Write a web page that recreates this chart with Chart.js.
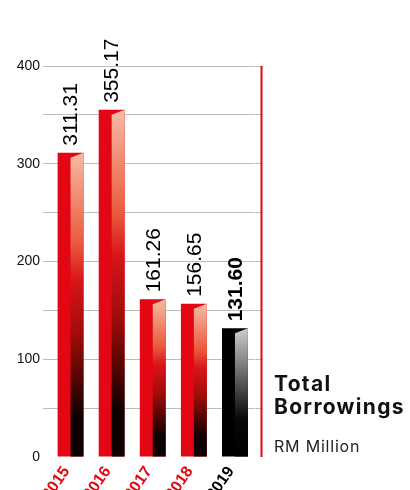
<!DOCTYPE html>
<html>
<head>
<meta charset="utf-8">
<script src="https://cdn.jsdelivr.net/npm/chart.js@4"></script>
<style>
  body { margin: 0; background: #fff; }
  #wrap { position: relative; width: 410px; height: 490px; }
  .title { position: absolute; left: 274px; font-family: "Inter", "Noto Sans", sans-serif; color: #111; }
  #t1 { top: 372px; font-size: 21px; font-weight: 700; line-height: 23px; letter-spacing: 1.3px; }
  #t2 { top: 436px; font-size: 16px; font-weight: 400; line-height: 20px; color: #222; letter-spacing: 0.8px; }
</style>
</head>
<body>
<div id="wrap">
  <canvas id="myChart"></canvas>
  <div class="title" id="t1">Total<br>Borrowings</div>
  <div class="title" id="t2">RM Million</div>
</div>
<script>
const years = ["2015", "2016", "2017", "2018", "2019"];
const borrowings = [311.31, 355.17, 161.26, 156.65, 131.6];
const yTicks = [0, 100, 200, 300, 400];

const RED = "#e30613";
const frontColors = [RED, RED, RED, RED, "#000000"];
const labelColors = [RED, RED, RED, RED, "#000000"];

// right half of every bar gets the shaded "3d" side
const sideFace = {
  id: "sideFace",
  afterDatasetsDraw(chart) {
    const ctx = chart.ctx;
    const meta = chart.getDatasetMeta(0);
    meta.data.forEach(function (bar, i) {
      const left = bar.x;
      const right = bar.x + bar.width / 2;
      const top = bar.y;
      const bottom = bar.base;
      const h = bottom - top;
      const grad = ctx.createLinearGradient(0, top, 0, bottom);
      if (i == 4) {
        grad.addColorStop(0, "#cfcfcf");
        grad.addColorStop(0.35, "#6a6a6a");
        grad.addColorStop(0.7, "#080808");
        grad.addColorStop(1, "#000000");
      } else {
        grad.addColorStop(0, "#f6bba5");
        grad.addColorStop(0.3, "#ea5a3c");
        grad.addColorStop(0.42, "#d8141a");
        grad.addColorStop(0.6, "#a00c0a");
        grad.addColorStop(0.76, "#4a0402");
        grad.addColorStop(0.87, "#0e0000");
        grad.addColorStop(1, "#0e0000");
      }
      ctx.save();
      ctx.fillStyle = grad;
      ctx.beginPath();
      ctx.moveTo(left, top + Math.min(5, h));
      ctx.lineTo(right, top);
      ctx.lineTo(right, bottom);
      ctx.lineTo(left, bottom);
      ctx.closePath();
      ctx.fill();
      ctx.restore();
    });
  },
};

// vertical value labels over the bars
const valueLabels = {
  id: "valueLabels",
  afterDatasetsDraw(chart) {
    const ctx = chart.ctx;
    const meta = chart.getDatasetMeta(0);
    meta.data.forEach(function (bar, i) {
      ctx.save();
      ctx.translate(bar.x + 1, bar.y - 7);
      ctx.rotate(-Math.PI / 2);
      ctx.font = (i == 4 ? "bold " : "") + "21px 'Liberation Sans', Arial, sans-serif";
      ctx.fillStyle = "#000";
      ctx.textAlign = "left";
      ctx.textBaseline = "middle";
      ctx.fillText(borrowings[i].toFixed(2), 0, 0);
      ctx.restore();
    });
  },
};

// red rule on the right edge of the plot
const redRule = {
  id: "redRule",
  afterDraw(chart) {
    const ctx = chart.ctx;
    const x = chart.scales.y2.right - 1;
    ctx.save();
    ctx.strokeStyle = RED;
    ctx.lineWidth = 2;
    ctx.beginPath();
    ctx.moveTo(x, chart.chartArea.top);
    ctx.lineTo(x, chart.chartArea.bottom);
    ctx.stroke();
    ctx.restore();
  },
};

function gridColor(c) {
  return c.tick && c.tick.value === 0 ? "rgba(0,0,0,0)" : "#bdbdbd";
}

new Chart(document.getElementById("myChart"), {
  type: "bar",
  data: {
    labels: years,
    datasets: [
      {
        data: borrowings,
        backgroundColor: frontColors,
        borderWidth: 0,
        barPercentage: 0.63,
        categoryPercentage: 1,
      },
    ],
  },
  options: {
    responsive: true,
    maintainAspectRatio: false,
    animation: false,
    layout: { padding: { top: 66, right: 147.5, left: 0, bottom: 0 } },
    plugins: { legend: { display: false }, tooltip: { enabled: false } },
    scales: {
      x: {
        grid: { display: false },
        border: { display: false },
        ticks: {
          minRotation: 55,
          maxRotation: 55,
          padding: -2,
          labelOffset: -4,
          color: labelColors,
          font: { family: "'Liberation Sans', Arial, sans-serif", size: 16, weight: "bold" },
        },
        afterFit(scale) {
          scale.height = 33;
        },
      },
      y: {
        min: 0,
        max: 400,
        border: { display: false },
        grid: { color: gridColor, tickLength: 7, lineWidth: 1 },
        ticks: {
          stepSize: 50,
          padding: 3,
          color: "#111",
          font: { family: "'Liberation Sans', Arial, sans-serif", size: 14 },
          callback: function (v) {
            return yTicks.includes(v) ? String(v) : "";
          },
        },
        afterFit(scale) {
          scale.width = 50;
        },
      },
      y2: {
        position: "right",
        min: 0,
        max: 400,
        border: { display: false },
        grid: { color: gridColor, drawOnChartArea: false, tickLength: 7 },
        ticks: { stepSize: 50, display: false },
        afterFit(scale) {
          scale.width = 7;
        },
      },
    },
  },
  plugins: [sideFace, valueLabels, redRule],
});
</script>
</body>
</html>
